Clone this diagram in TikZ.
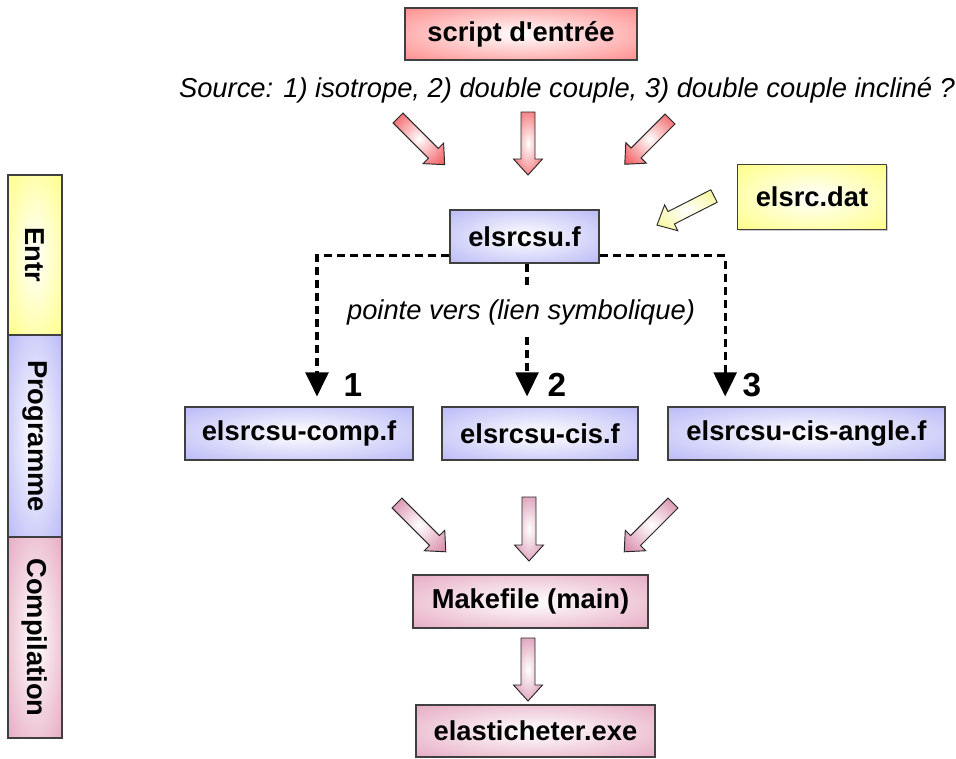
\documentclass[tikz,border=0pt]{standalone}
\usepackage{fontspec}
\setmainfont{Liberation Sans}
\usetikzlibrary{arrows.meta,positioning,shadows}
\definecolor{ScriptRed}{RGB}{255,112,112}
\definecolor{DatYellow}{RGB}{255,255,105}
\definecolor{CodeBlue}{RGB}{168,168,245}
\definecolor{MakePink}{RGB}{224,150,180}
\definecolor{ArrowRed}{RGB}{240,70,75}
\definecolor{ArrowPink}{RGB}{210,125,160}
\definecolor{ArrowYellow}{RGB}{245,245,130}
\pgfdeclareradialshading{redglow}{\pgfpoint{0bp}{0bp}}{color(0bp)=(white);color(45bp)=(ScriptRed);color(72bp)=(ScriptRed)}
\pgfdeclareradialshading{yellowglow}{\pgfpoint{0bp}{0bp}}{color(0bp)=(white);color(45bp)=(DatYellow);color(72bp)=(DatYellow)}
\pgfdeclareradialshading{blueglow}{\pgfpoint{0bp}{0bp}}{color(0bp)=(white);color(45bp)=(CodeBlue);color(72bp)=(CodeBlue)}
\pgfdeclareradialshading{pinkglow}{\pgfpoint{0bp}{0bp}}{color(0bp)=(white);color(45bp)=(MakePink);color(72bp)=(MakePink)}
\pgfdeclareradialshading{redarrowglow}{\pgfpoint{0bp}{0bp}}{color(0bp)=(white);color(38bp)=(ArrowRed);color(72bp)=(ArrowRed)}
\pgfdeclareradialshading{pinkarrowglow}{\pgfpoint{0bp}{0bp}}{color(0bp)=(white);color(38bp)=(ArrowPink);color(72bp)=(ArrowPink)}
\pgfdeclareradialshading{yellowarrowglow}{\pgfpoint{0bp}{0bp}}{color(0bp)=(white);color(40bp)=(ArrowYellow);color(72bp)=(ArrowYellow)}
\newcommand{\diafont}{\fontsize{20.5}{24}\selectfont}
\newcommand{\numfont}{\fontsize{25}{28}\selectfont}
% block arrow: shading, tail coordinate, angle, length (px)
\newcommand{\fatarrow}[4]{%
  \path[bigarrow,shading=#1,shift={(#2)},rotate=#3]
    (0,-7) -- ({#4-16},-7) -- ({#4-16},-14.5) -- (#4,0) -- ({#4-16},14.5)
    -- ({#4-16},7) -- (0,7) -- cycle;}
\tikzset{
  filebox/.style={draw=black!75,line width=0.8pt,font=\bfseries\diafont,inner sep=0pt,
    drop shadow={shadow xshift=1pt,shadow yshift=-1pt,fill=black!40}},
  redbox/.style={filebox,shading=redglow},
  yellowbox/.style={filebox,shading=yellowglow},
  bluebox/.style={filebox,shading=blueglow},
  pinkbox/.style={filebox,shading=pinkglow},
  stagebox/.style={draw=black!75,line width=0.8pt,font=\bfseries\diafont,inner sep=0pt,
    rotate=-90,minimum height=40.5pt},
  bigarrow/.style={draw=black!85,line width=0.7pt,line join=miter},
  note/.style={font=\itshape\diafont,inner sep=0pt},
  dashline/.style={line width=2.5pt,dash pattern=on 6pt off 3.8pt},
  link/.style={dashline,-{Triangle[width=17pt,length=18pt]},shorten >=7.5pt}
}
\begin{document}
\begin{tikzpicture}[x=0.75pt,y=-0.75pt]
  \useasboundingbox (0,0) rectangle (956,758);

  % stages on the left
  \node[stagebox,shading=yellowglow,minimum width=120pt] (entr) at (35,255) {Entr};
  \node[stagebox,shading=blueglow,minimum width=151.5pt] (prog) at (35,436) {Programme};
  \node[stagebox,shading=pinkglow,minimum width=150.75pt] (comp) at (35,637.5) {Compilation};

  % input
  \node[redbox,minimum width=174pt,minimum height=39pt] (script) at (521,34) {script d\textquotesingle entrée};
  \node[note] (source) at (567,90) {Source: 1) isotrope, 2) double couple, 3) double couple incliné ?};
  \coordinate (in1) at (398,118);
  \coordinate (in2) at (528,112);
  \coordinate (in3) at (670,119);
  \fatarrow{redarrowglow}{in1}{-45}{66}
  \fatarrow{redarrowglow}{in2}{-90}{63}
  \fatarrow{redarrowglow}{in3}{-135}{64}

  \node[yellowbox,minimum width=111.75pt,minimum height=48.75pt] (dat) at (812,197) {elsrc.dat};
  \coordinate (datin) at (714,196);
  \fatarrow{yellowarrowglow}{datin}{207}{64}

  % program files
  \node[bluebox,minimum width=111.75pt,minimum height=39.75pt] (elsrcsu) at (524.5,236.5) {elsrcsu.f};
  \node[bluebox,minimum width=171pt,minimum height=39.75pt] (srccomp) at (299,433.5) {elsrcsu-comp.f};
  \node[bluebox,minimum width=147pt,minimum height=39.75pt] (srccis) at (540,433.5) {elsrcsu-cis.f};
  \node[bluebox,minimum width=207.75pt,minimum height=39.75pt] (srcangle) at (806.5,433.5) {elsrcsu-cis-angle.f};

  \node[note,inner ysep=9pt] (pointe) at (521,312) {pointe vers (lien symbolique)};
  \coordinate (mid) at ([xshift=1.9pt]elsrcsu.south);
  \draw[link] ([yshift=6pt]elsrcsu.south west) -| ([xshift=13.5pt]srccomp.north);
  \draw[link] ([yshift=6pt]elsrcsu.south east) -| ([xshift=-61pt]srcangle.north);
  \draw[dashline] (mid) -- (mid |- pointe.north);
  \draw[link] (mid |- pointe.south) -- (mid |- srccis.north);

  \node[font=\bfseries\numfont] (num1) at (353,385) {1};
  \node[font=\bfseries\numfont] (num2) at (557,385) {2};
  \node[font=\bfseries\numfont] (num3) at (752,385) {3};

  % compilation
  \coordinate (mk1) at (397,503);
  \coordinate (mk2) at (529,497);
  \coordinate (mk3) at (673,503);
  \coordinate (mkexe) at (528,638);
  \fatarrow{pinkarrowglow}{mk1}{-45}{69}
  \fatarrow{pinkarrowglow}{mk2}{-90}{64}
  \fatarrow{pinkarrowglow}{mk3}{-135}{69}
  \node[pinkbox,minimum width=176.25pt,minimum height=39.75pt] (make) at (530.5,601.5) {Makefile (main)};
  \fatarrow{pinkarrowglow}{mkexe}{-90}{63}
  \node[pinkbox,minimum width=179.25pt,minimum height=39pt] (exe) at (535.5,731) {elasticheter.exe};
\end{tikzpicture}
\end{document}
